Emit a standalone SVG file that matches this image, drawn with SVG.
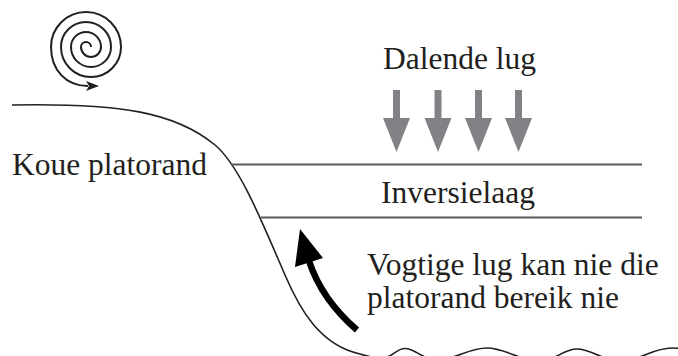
<svg xmlns="http://www.w3.org/2000/svg" width="678" height="356" viewBox="0 0 678 356">
<style>
.lbl{font-family:"Liberation Serif","Times New Roman",serif;font-size:31.5px;fill:#231f20}
.ter{fill:none;stroke:#231f20;stroke-width:1.6}
.lay{stroke:#58595b;stroke-width:2.2}
.down{fill:#808285}
</style>
<rect width="678" height="356" fill="#ffffff"/>
<g id="terrain">
<path class="ter" d="M12,105 C120,103 175,112 215,145 C240,166 262,222 285,275 C300,310 320,345 360,354 C368,356.5 375,358 382,358 C392,358 396,348.5 405,348.5 C415,348.5 424,360 436,360 C455,360 468,348 487,348 C505,348 520,361 540,361 C555,361 563,349 577,349 C592,349 603,361 620,361 C640,361 652,348 672,348 C680,348 685,349 690,351"/>
</g>
<g id="spiral">
<path fill="none" stroke="#231f20" stroke-width="2" d="M91,47 A5,5 0 0 0 81,47 A10,10 0 0 0 101,47 A15,15 0 0 0 71,47 A20,20 0 0 0 111,47 A25,25 0 0 0 61,47 A30,30 0 0 0 121,47 A35,35 0 0 0 51,47 C51,70 66,86 88,86"/>
<polygon fill="#231f20" points="99,86 86,81 89,86 86,91"/>
</g>
<g id="layers">
<line class="lay" x1="231" y1="164.5" x2="642" y2="164.5"/>
<line class="lay" x1="261" y1="217.5" x2="642" y2="217.5"/>
</g>
<g id="sinking-air">
<g class="down">
<rect x="393" y="90" width="7" height="29"/><polygon points="383,118 410,118 396.5,152"/>
<rect x="434.5" y="90" width="7" height="29"/><polygon points="424.5,118 451.5,118 438,152"/>
<rect x="475" y="90" width="7" height="29"/><polygon points="465,118 492,118 478.5,152"/>
<rect x="515" y="90" width="7" height="29"/><polygon points="505,118 532,118 518.5,152"/>
</g>
</g>
<g id="connectors">
<path fill="none" stroke="#000" stroke-width="6.5" d="M357,330 Q322,300 309,261"/>
<polygon fill="#000" points="300,229 295,267 323,258"/>
</g>
<g id="labels">
<text class="lbl" x="383" y="69">Dalende lug</text>
<text class="lbl" x="12" y="175">Koue platorand</text>
<text class="lbl" x="381" y="203">Inversielaag</text>
<text class="lbl" x="367" y="275">Vogtige lug kan nie die</text>
<text class="lbl" x="367" y="308">platorand bereik nie</text>
</g>
</svg>
